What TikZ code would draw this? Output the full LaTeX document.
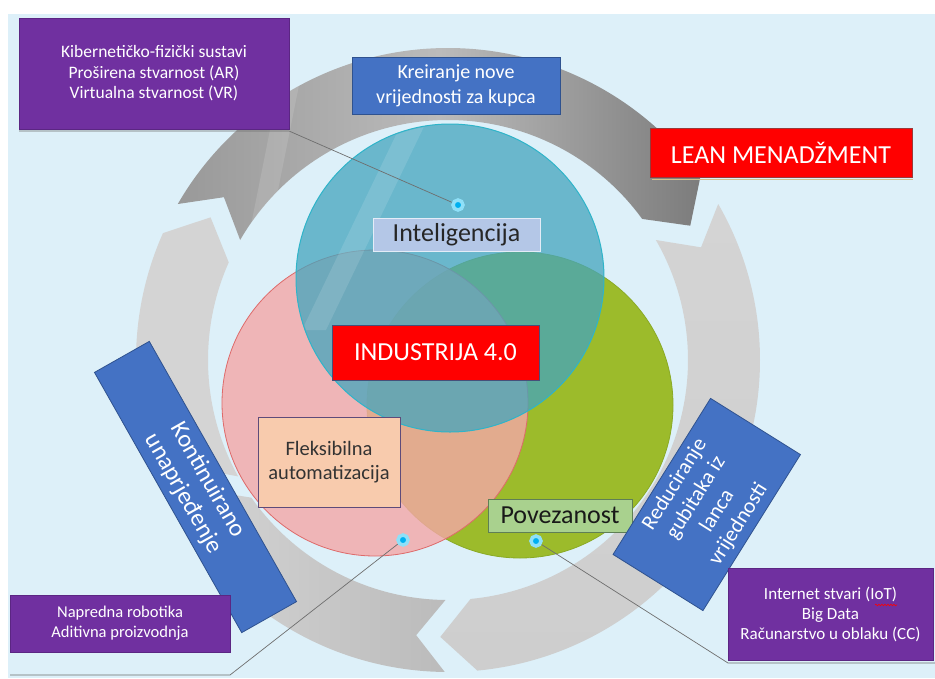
\documentclass[tikz,border=0pt]{standalone}
\usepackage{fontspec}
\setmainfont{Carlito}
\usetikzlibrary{decorations.pathmorphing}
\definecolor{bgc}{HTML}{DDF0F9}
\definecolor{purp}{HTML}{7030A0}
\definecolor{purpedge}{HTML}{5B2683}
\definecolor{bluefill}{HTML}{4472C4}
\definecolor{blueedge}{HTML}{2F528F}
\definecolor{redfill}{HTML}{FF0000}
\definecolor{rededge}{HTML}{9A3A3A}
\definecolor{indedge}{HTML}{45507A}
\definecolor{intelfill}{HTML}{B4C7E7}
\definecolor{inteledge}{HTML}{E4ECF7}
\definecolor{flexfill}{HTML}{F8CBAD}
\definecolor{flexedge}{HTML}{5E4B7A}
\definecolor{povfill}{HTML}{A9D18E}
\definecolor{povedge}{HTML}{5F7F55}
\definecolor{pinkfill}{HTML}{F4A7A7}
\definecolor{pinkedge}{HTML}{DE6A6A}
\definecolor{greenfill}{HTML}{9CBB2B}
\definecolor{greenedge}{HTML}{8AAA25}
\definecolor{cyanfill}{HTML}{44A5BD}
\definecolor{cyanedge}{HTML}{2FB4C9}
\definecolor{dotfill}{HTML}{00B0F0}
\definecolor{dotring}{HTML}{8FE0F8}
\definecolor{ringlight}{HTML}{D4D4D4}
\definecolor{ringlight2}{HTML}{CECECE}
\definecolor{ringmid}{HTML}{BBBBBB}
\definecolor{topl}{HTML}{999999}
\definecolor{topm}{HTML}{BBBBBB}
\definecolor{topr}{HTML}{7C7C7C}
\definecolor{linec}{HTML}{6E6E6E}
\definecolor{shadowc}{HTML}{D2C08C}
\tikzset{
  box/.style={rectangle, inner sep=0pt, align=center},
  purplebox/.style={box, fill=purp, draw=purpedge, line width=0.6pt, text=white},
  bluebox/.style={box, fill=bluefill, draw=blueedge, line width=0.8pt, text=white},
  redbox/.style={box, fill=redfill, text=white},
  callout/.style={draw=linec, line width=0.7pt},
  dotnode/.style={circle, inner sep=0pt, minimum size=10pt, fill=dotfill,
    draw=dotring, line width=3.5pt},
  gleam/.style={fill=white, fill opacity=0.12},
}
\begin{document}
\begin{tikzpicture}[x=1pt,y=-1pt]
\useasboundingbox (0,0) rectangle (935,678);
\fill[white] (0,0) rectangle (935,678);
\fill[bgc] (8,14) rectangle (935,678);

% ring of chevron arrows
\begin{scope}[shift={(448,360)},yscale=-1]
  % left arrow
  \fill[ringlight] (209:312) arc[start angle=209,end angle=156,radius=312]
     -- (149:277) -- (156:240) arc[start angle=156,end angle=209,radius=240]
     -- (203:277) -- cycle;
  % bottom arrow
  \shade[left color=ringlight, right color=ringmid]
     (269.4:312) arc[start angle=269.4,end angle=215,radius=312]
     -- (208:277) -- (215:240) arc[start angle=215,end angle=269.4,radius=240]
     -- (263.4:277) -- cycle;
  % right arrow
  \shade[top color=ringlight, bottom color=ringlight2]
     (30:312) arc[start angle=30,end angle=-84.6,radius=312]
     -- (-91.6:277) -- (-84.6:240) arc[start angle=-84.6,end angle=30,radius=240]
     -- (24:277) -- cycle;
  % top arrow
  \shade[left color=topl, right color=topr, middle color=topm]
     (150:312) arc[start angle=150,end angle=36,radius=312]
     -- (29:277) -- (36:240) arc[start angle=36,end angle=150,radius=240]
     -- (144:277) -- cycle;
  \begin{scope}
    \clip (150:312) arc[start angle=150,end angle=36,radius=312]
     -- (29:277) -- (36:240) arc[start angle=36,end angle=150,radius=240]
     -- (144:277) -- cycle;
    \fill[gleam] (-166,290) -- (-146,290) -- (-180,120) -- (-200,120) -- cycle;
  \end{scope}
\end{scope}

% Venn circles
\filldraw[fill=greenfill, draw=greenedge, line width=0.8pt] (520,405) circle[radius=153];
\filldraw[fill=pinkfill, fill opacity=0.8, draw=pinkedge, line width=0.8pt] (375,403) circle[radius=153];
\filldraw[fill=cyanfill, fill opacity=0.75, draw=cyanedge, line width=1pt] (450,278) circle[radius=154];
\begin{scope}
  \clip (450,278) circle[radius=153];
  \fill[gleam] (408,110) -- (432,110) -- (326,330) -- (302,330) -- cycle;
\end{scope}

% boxes
\node[purplebox, minimum width=270pt, minimum height=111pt,
  font=\fontsize{17.5}{20.5}\selectfont] (tl) at (154,73.5)
  {Kibernetičko-fizički sustavi\\Proširena stvarnost (AR)\\Virtualna stvarnost (VR)};
\node[bluebox, minimum width=208pt, minimum height=57pt,
  font=\fontsize{20}{25}\selectfont] (kre) at (456,85.5)
  {Kreiranje nove\\vrijednosti za kupca};
\draw[shadowc, line width=1.5pt] (652,179.5) -- (913,179.5);
\node[redbox, draw=rededge, line width=0.8pt, minimum width=262pt, minimum height=49pt,
  font=\fontsize{26}{30}\selectfont] (lean) at (781,152.5) {LEAN MENADŽMENT};
\node[box, fill=intelfill, draw=inteledge, line width=0.8pt, text=black!85,
  minimum width=167pt, minimum height=33pt, font=\fontsize{26}{30}\selectfont]
  (intel) at (456.5,234.5) {Inteligencija};
\node[redbox, draw=indedge, line width=0.8pt, minimum width=207pt, minimum height=55pt,
  font=\fontsize{26}{30}\selectfont] (ind) at (435.5,352.5) {INDUSTRIJA 4.0};
\node[box, fill=flexfill, draw=flexedge, line width=0.8pt, text=black!80,
  minimum width=142pt, minimum height=90pt, font=\fontsize{20.5}{23.5}\selectfont]
  (flex) at (329,462) {Fleksibilna\\automatizacija};
\node[box, fill=povfill, draw=povedge, line width=0.8pt, text=black!90,
  minimum width=144pt, minimum height=33pt, font=\fontsize{26}{30}\selectfont]
  (pov) at (560,515.5) {Povezanost};
\node[bluebox, minimum width=299pt, minimum height=63pt, rotate=-60.5,
  font=\fontsize{24.5}{28}\selectfont] (kont) at (195.5,487)
  {Kontinuirano\\unaprjeđenje};
\node[bluebox, minimum width=184pt, minimum height=106pt, rotate=58,
  font=\fontsize{21.5}{25}\selectfont] (redu) at (706.75,504.5)
  {Reduciranje\\gubitaka iz\\lanca\\vrijednosti};
\node[purplebox, minimum width=220pt, minimum height=57pt,
  font=\fontsize{16.5}{20}\selectfont] (bl) at (120,623.5)
  {Napredna robotika\\Aditivna proizvodnja};
\node[purplebox, minimum width=205pt, minimum height=92pt,
  font=\fontsize{17}{20}\selectfont] (br) at (830.5,614)
  {Internet stvari (IoT)\\Big Data\\Računarstvo u oblaku (CC)};
\coordinate (sq1) at (875,605);
\coordinate (sq2) at (897,605);
\draw[red, line width=0.6pt, decorate,
  decoration={snake, amplitude=0.8pt, segment length=3pt}] (sq1) -- (sq2);

% callout dots and lines
\coordinate (c1) at (289,131);
\coordinate (c1e) at (19,131);
\coordinate (c2) at (230,675);
\coordinate (c2e) at (10,675);
\coordinate (c3) at (728,663);
\coordinate (c3e) at (935,663);
\node[dotnode] (d1) at (458,205) {};
\node[dotnode] (d2) at (403,540) {};
\node[dotnode] (d3) at (536,541) {};
\draw[callout] (d1) -- (c1) -- (c1e);
\draw[callout] (d2) -- (c2) -- (c2e);
\draw[callout] (d3) -- (c3) -- (c3e);
\end{tikzpicture}
\end{document}
